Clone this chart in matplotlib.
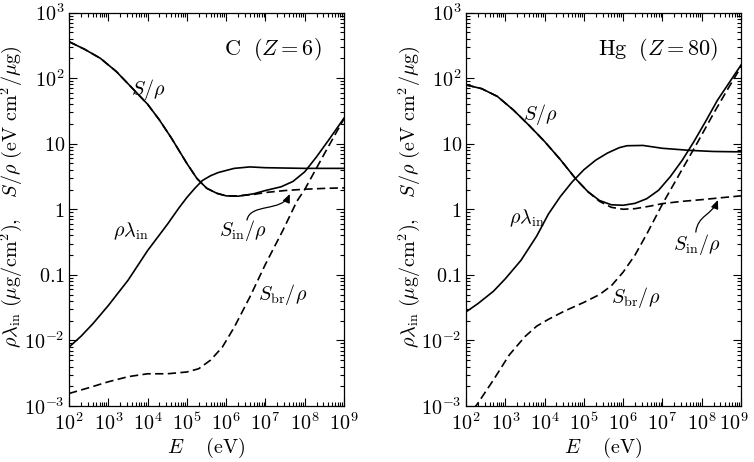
import numpy as np
import matplotlib
matplotlib.use("Agg")
import matplotlib.pyplot as plt
import matplotlib.transforms as mtransforms
from matplotlib.path import Path
from matplotlib.patches import FancyArrowPatch
from matplotlib.ticker import FixedLocator, FixedFormatter, LogLocator, NullFormatter

plt.rcParams['mathtext.fontset'] = 'cm'
plt.rcParams['font.family'] = 'serif'
plt.rcParams['font.serif'] = ['DejaVu Serif']

# ---- DATOS: carbono (Z=6) ----
E_c_S = [1e2, 2.5e2, 6.3e2, 1.6e3, 4e3, 1e4, 2e4, 4e4, 5.5e4, 1e5, 1.8e5, 3.2e5,
         5.8e5, 1e6, 2e6, 5e6, 1e7, 2.5e7, 5e7, 1e8, 2e8, 4e8, 1e9]
S_c = [359, 275, 200, 126, 71, 40, 23, 12.3, 9.0, 5.0, 2.95, 2.09,
       1.75, 1.60, 1.58, 1.72, 1.93, 2.2, 2.65, 3.72, 6.3, 11.2, 24.5]

E_c_lam = [1e2, 2e2, 4e2, 1e3, 3.2e3, 1e4, 3.2e4, 6.3e4, 1e5, 1.6e5, 2.5e5, 4e5,
           6.3e5, 1.6e6, 4e6, 1e7, 1e8, 1e9]
lam_c = [0.0079, 0.0115, 0.0178, 0.034, 0.083, 0.234, 0.59, 1.05, 1.51, 2.09, 2.75, 3.24,
         3.63, 4.2, 4.42, 4.3, 4.2, 4.2]

E_c_in = [1e2, 2.5e2, 6.3e2, 1.6e3, 4e3, 1e4, 2e4, 4e4, 5.5e4, 1e5, 1.8e5, 3.2e5,
          5.8e5, 1e6, 2e6, 5e6, 1e7, 3.2e7, 1e8, 3.2e8, 1e9]
Sin_c = [359, 275, 200, 126, 71, 40, 23, 12.3, 9.0, 5.0, 2.95, 2.09,
         1.75, 1.60, 1.60, 1.68, 1.80, 1.93, 2.02, 2.08, 2.12]

E_c_br = [1e2, 3.2e2, 1e3, 3.2e3, 1e4, 3.2e4, 1e5, 2e5, 4e5, 8e5, 1.6e6, 4e6,
          1e7, 2.8e7, 6.3e7, 1e8, 3.2e8, 1e9]
Sbr_c = [0.00155, 0.0019, 0.00234, 0.0028, 0.0031, 0.0031, 0.0033, 0.0037, 0.0050,
         0.0079, 0.0158, 0.0457, 0.145, 0.48, 1.32, 2.0, 7.1, 24]

# ---- DATOS: mercurio (Z=80) ----
E_h_S = [1e2, 2.5e2, 6.3e2, 1.6e3, 4e3, 1e4, 2.5e4, 6.3e4, 1.26e5, 2.5e5, 5e5, 1e6,
         2e6, 4e6, 8e6, 1.6e7, 3.2e7, 6.3e7, 1.26e8, 2.5e8, 5e8, 1e9]
S_h = [78.7, 69, 52.5, 32.7, 19.1, 10.8, 5.75, 2.88, 1.86, 1.36, 1.17, 1.15,
       1.23, 1.45, 1.95, 3.16, 5.6, 10.7, 21.9, 45.7, 85, 158]

E_h_lam = [1e2, 2e2, 5e2, 1e3, 2.5e3, 6.3e3, 1.26e4, 2.5e4, 5e4, 1e5, 2e5, 4e5,
           8e5, 1.26e6, 3.2e6, 1e7, 5e7, 2e8, 1e9]
lam_h = [0.0272, 0.0363, 0.0562, 0.087, 0.166, 0.39, 0.85, 1.55, 2.6, 4.0, 5.6, 7.2,
         8.7, 9.3, 9.4, 8.5, 7.9, 7.6, 7.5]

E_h_in = [1e2, 2.5e2, 6.3e2, 1.6e3, 4e3, 1e4, 2.5e4, 6.3e4, 1.26e5, 2.5e5, 5e5, 1e6,
          2e6, 5e6, 1e7, 3.2e7, 1e8, 3.2e8, 1e9]
Sin_h = [78.7, 69, 52.5, 32.7, 19.1, 10.8, 5.75, 2.88, 1.86, 1.32, 1.07, 1.0,
         1.02, 1.12, 1.22, 1.32, 1.40, 1.50, 1.60]

E_h_br = [1e2, 2e2, 5e2, 1.26e3, 3.2e3, 6.3e3, 1.26e4, 3.2e4, 1e5, 2.5e5, 5e5, 1e6,
          2e6, 4e6, 1e7, 2.8e7, 8e7, 2e8, 5e8, 1e9]
Sbr_h = [0.00063, 0.0011, 0.0025, 0.0060, 0.0115, 0.0165, 0.021, 0.028, 0.038, 0.050, 0.068,
         0.11, 0.2, 0.42, 1.2, 3.55, 10.7, 28.8, 74, 148]

# ---- ticks ----
yticks = [1e-3, 1e-2, 0.1, 1, 10, 1e2, 1e3]
ytick_labels = [r'$10^{-3}$', r'$10^{-2}$', r'$0.1$', r'$1$', r'$10$', r'$10^{2}$', r'$10^{3}$']
xticks = [1e2, 1e3, 1e4, 1e5, 1e6, 1e7, 1e8, 1e9]
xtick_labels = [r'$10^{%d}$' % k for k in range(2, 10)]

ylabel = r'$\rho\lambda_{\rm in}\ (\mu{\rm g/cm}^2),\quad S/\rho\ ({\rm eV\ cm}^2/\mu{\rm g})$'
xlabel = r'$E\quad\ ({\rm eV})$'

fig = plt.figure(figsize=(7.54, 4.62), dpi=100)
ax1 = fig.add_axes([69/754, 56/462, 275/754, 393.5/462])
ax2 = fig.add_axes([466/754, 56/462, 275/754, 393.5/462])

fs = 14.5
dash = (5, 2.6)


def preparar(ax):
    ax.set_xscale('log')
    ax.set_yscale('log')
    ax.set_xlim(1e2, 1e9)
    ax.set_ylim(1e-3, 1e3)
    ax.xaxis.set_major_locator(FixedLocator(xticks))
    ax.xaxis.set_major_formatter(FixedFormatter(xtick_labels))
    ax.yaxis.set_major_locator(FixedLocator(yticks))
    ax.yaxis.set_major_formatter(FixedFormatter(ytick_labels))
    ax.xaxis.set_minor_locator(LogLocator(base=10, subs=np.arange(2, 10), numticks=20))
    ax.yaxis.set_minor_locator(LogLocator(base=10, subs=np.arange(2, 10), numticks=20))
    ax.xaxis.set_minor_formatter(NullFormatter())
    ax.yaxis.set_minor_formatter(NullFormatter())
    ax.tick_params(which='both', direction='in', top=True, right=True, width=0.8)
    ax.tick_params(which='major', length=6, labelsize=fs)
    ax.tick_params(which='minor', length=3)
    ax.tick_params(axis='x', pad=5)
    ax.tick_params(axis='y', pad=3)
    for s in ax.spines.values():
        s.set_linewidth(0.9)
    ax.set_ylabel(ylabel, fontsize=fs)
    ax.set_xlabel(xlabel, fontsize=fs)
    ax.xaxis.set_label_coords(0.5, -0.077)


def flecha(ax, pts):
    codes = [Path.MOVETO, Path.CURVE4, Path.CURVE4, Path.CURVE4]
    a = FancyArrowPatch(path=Path(pts, codes), arrowstyle='-|>,head_length=5,head_width=2.2',
                        color='black', lw=0.9, transform=ax.transData)
    ax.add_patch(a)


# ---- panel carbono ----
preparar(ax1)
ax1.yaxis.set_label_coords(-0.162, 0.532)
ax1.plot(E_c_S, S_c, 'k-', lw=1.2)
ax1.plot(E_c_lam, lam_c, 'k-', lw=1.2)
ax1.plot(E_c_in, Sin_c, 'k--', lw=1.2, dashes=dash)
ax1.plot(E_c_br, Sbr_c, 'k--', lw=1.2, dashes=dash)
ax1.text(0.92, 0.905, r'${\rm C}\ \ (Z=6)$', transform=ax1.transAxes, fontsize=16,
         ha='right', va='center')
ax1.text(0.287, 0.804, r'$S/\rho$', transform=ax1.transAxes, fontsize=fs, ha='center', va='center')
ax1.text(0.225, 0.443, r'$\rho\lambda_{\rm in}$', transform=ax1.transAxes, fontsize=fs,
         ha='center', va='center')
ax1.text(0.633, 0.445, r'$S_{\rm in}/\rho$', transform=ax1.transAxes, fontsize=fs,
         ha='center', va='center')
ax1.text(0.778, 0.283, r'$S_{\rm br}/\rho$', transform=ax1.transAxes, fontsize=fs,
         ha='center', va='center')
flecha(ax1, [(10**6.53, 10**-0.165), (10**6.61, 10**0.095), (10**7.42, 10**-0.043),
             (10**7.62, 10**0.232)])

# ---- panel mercurio ----
preparar(ax2)
ax2.yaxis.set_label_coords(-0.16, 0.532)
ax2.plot(E_h_S, S_h, 'k-', lw=1.2)
ax2.plot(E_h_lam, lam_h, 'k-', lw=1.2)
ax2.plot(E_h_in, Sin_h, 'k--', lw=1.2, dashes=dash)
ax2.plot(E_h_br, Sbr_h, 'k--', lw=1.2, dashes=dash)
ax2.text(0.916, 0.905, r'${\rm Hg}\ \ (Z=80)$', transform=ax2.transAxes, fontsize=16,
         ha='right', va='center')
ax2.text(0.269, 0.74, r'$S/\rho$', transform=ax2.transAxes, fontsize=fs, ha='center', va='center')
ax2.text(0.222, 0.478, r'$\rho\lambda_{\rm in}$', transform=ax2.transAxes, fontsize=fs,
         ha='center', va='center')
ax2.text(0.84, 0.41, r'$S_{\rm in}/\rho$', transform=ax2.transAxes, fontsize=fs,
         ha='center', va='center')
ax2.text(0.615, 0.277, r'$S_{\rm br}/\rho$', transform=ax2.transAxes, fontsize=fs,
         ha='center', va='center')
flecha(ax2, [(10**7.85, 10**-0.348), (10**7.90, 10**-0.09), (10**8.26, 10**-0.09),
             (10**8.41, 10**0.14)])

# el ultimo rotulo (10^9) se corre un poco para que no se corte en el borde
fig.canvas.draw()
ult = ax2.get_xticklabels()[-1]
ult.set_transform(ult.get_transform() + mtransforms.ScaledTranslation(-5/72, 0, fig.dpi_scale_trans))

fig.savefig('out.png', dpi=100)
